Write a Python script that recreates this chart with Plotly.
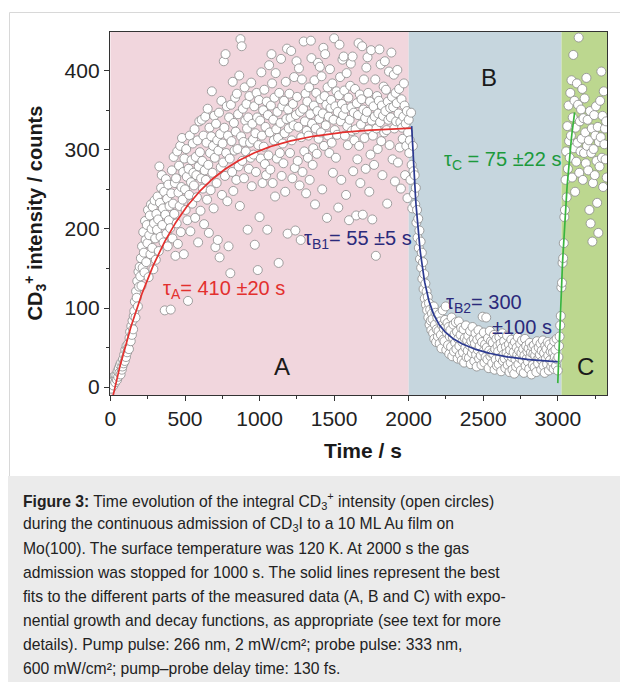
import numpy as np
import plotly.graph_objects as go

# ---------------------------------------------------------------
# CD3+ intensity trace, one reading every 4 s
# ---------------------------------------------------------------
sample_step_s = 4

# part A: gas admission on (0 - 1996 s)
counts_A = [
    3, -2, 8, 5, 12, 2, 9, 14, 6, 11,
    15, 9, 20, 13, 24, 18, 28, 16, 31, 22,
    26, 35, 30, 41, 33, 47, 38, 52, 44, 49,
    55, 48, 62, 70, 58, 77, 66, 84, 73, 90,
    96, 108, 88, 121, 113, 134, 102, 146, 127, 152,
    140, 163, 128, 178, 151, 196, 170, 145, 210, 186,
    158, 205, 182, 224, 139, 192, 217, 168, 231, 200,
    176, 228, 149, 207, 236, 188, 161, 219, 199, 241,
    212, 172, 279, 233, 190, 252, 268, 205, 226, 183,
    247, 97, 218, 263, 194, 238, 178, 256, 211, 229,
    201, 98, 245, 274, 188, 232, 291, 219, 258, 166,
    264, 207, 298, 181, 246, 280, 229, 305, 196, 253,
    315, 237, 272, 168, 289, 250, 224, 301, 266, 211,
    109, 276, 243, 318, 197, 259, 287, 232, 308, 271,
    255, 326, 214, 291, 268, 240, 312, 183, 279, 336,
    297, 223, 264, 338, 286, 251, 318, 206, 274, 342,
    262, 309, 237, 352, 281, 195, 328, 296, 249, 317,
    374, 271, 305, 226, 343, 290, 177, 333, 258, 312,
    186, 299, 347, 164, 320, 278, 362, 243, 308, 284,
    412, 328, 267, 421, 296, 355, 235, 318, 178, 341,
    289, 144, 357, 311, 272, 386, 248, 334, 299, 366,
    323, 262, 371, 301, 345, 279, 394, 229, 440, 317,
    431, 286, 352, 310, 264, 379, 337, 298, 358, 327,
    199, 341, 276, 368, 309, 290, 385, 254, 333, 313,
    294, 355, 180, 321, 272, 372, 341, 148, 306, 363,
    215, 337, 289, 398, 318, 258, 350, 304, 376, 282,
    329, 268, 361, 199, 344, 293, 407, 322, 275, 356,
    421, 384, 258, 338, 312, 366, 241, 397, 326, 289,
    348, 315, 157, 372, 296, 334, 415, 267, 355, 308,
    283, 362, 321, 247, 386, 339, 428, 194, 351, 327,
    371, 296, 340, 425, 312, 264, 358, 331, 392, 277,
    198, 344, 412, 367, 286, 329, 403, 255, 348, 186,
    316, 389, 272, 352, 437, 298, 336, 371, 245, 324,
    361, 290, 318, 379, 262, 345, 438, 416, 333, 281,
    302, 356, 388, 231, 327, 372, 295, 349, 410, 314,
    339, 405, 364, 322, 393, 250, 346, 429, 305, 368,
    421, 331, 357, 214, 379, 318, 342, 296, 402, 353,
    363, 309, 384, 271, 338, 441, 325, 355, 290, 374,
    319, 348, 227, 369, 433, 392, 336, 262, 358, 414,
    344, 418, 375, 318, 352, 243, 397, 330, 306, 366,
    211, 338, 381, 409, 354, 324, 418, 273, 347, 312,
    377, 326, 217, 359, 288, 344, 435, 305, 370, 258,
    332, 364, 431, 218, 351, 389, 315, 340, 276, 404,
    348, 417, 372, 326, 247, 361, 294, 426, 337, 212,
    318, 355, 281, 342, 389, 166, 327, 368, 301, 346,
    362, 427, 335, 408, 311, 356, 268, 343, 380, 322,
    412, 349, 376, 325, 232, 361, 338, 399, 306, 353,
    341, 423, 367, 288, 354, 395, 327, 260, 372, 336,
    359, 401, 284, 346, 377, 303, 335, 251, 364, 328,
    314, 342, 384, 356, 268, 333, 305, 349, 239, 322,
]

# part B: admission stopped (2000 - 2996 s)
counts_B = [
    338, 296, 312, 262, 347, 281, 226, 305, 273, 244,
    268, 231, 252, 208, 224, 189, 213, 176, 198, 162,
    184, 151, 170, 137, 158, 124, 143, 112, 131, 104,
    121, 97, 114, 88, 106, 79, 98, 84, 72, 93,
    86, 68, 102, 61, 79, 94, 57, 73, 88, 64,
    71, 92, 55, 83, 66, 49, 78, 97, 60, 74,
    58, 85, 102, 47, 69, 81, 53, 76, 42, 64,
    72, 51, 88, 39, 63, 79, 45, 67, 56, 82,
    48, 70, 36, 61, 83, 52, 41, 66, 75, 34,
    57, 44, 73, 31, 62, 50, 78, 38, 59, 46,
    65, 37, 53, 71, 29, 58, 43, 76, 49, 61,
    33, 55, 68, 41, 26, 60, 47, 72, 36, 52,
    63, 40, 28, 57, 89, 45, 69, 31, 54, 38,
    88, 50, 35, 62, 24, 46, 71, 39, 58, 43,
    30, 56, 42, 66, 22, 48, 35, 61, 27, 52,
    45, 29, 63, 37, 55, 20, 49, 68, 33, 41,
    58, 36, 24, 51, 43, 65, 28, 39, 54, 19,
    47, 31, 60, 38, 22, 53, 44, 17, 57, 35,
    26, 50, 41, 63, 29, 46, 37, 55, 21, 43,
    59, 34, 48, 18, 40, 61, 27, 52, 36, 45,
    32, 49, 23, 56, 38, 44, 16, 51, 28, 42,
    53, 25, 40, 47, 19, 58, 35, 30, 50, 37,
    41, 55, 22, 46, 33, 59, 27, 43, 18, 52,
    36, 48, 29, 57, 40, 21, 54, 34, 45, 26,
    50, 31, 44, 23, 58, 38, 47, 27, 61, 35,
]

# part C: admission restarted (3000 - 3328 s)
counts_C = [
    21, 38, 52, 64, 78, 90, 126, 132, 157, 163,
    182, 215, 224, 262, 298, 240, 330, 276, 356, 311,
    290, 372, 318, 388, 265, 341, 420, 302, 362, 247,
    328, 285, 384, 309, 357, 442, 271, 336, 298, 351,
    314, 377, 262, 340, 296, 365, 322, 283, 391, 305,
    338, 274, 312, 224, 349, 207, 296, 327, 184, 258,
    301, 344, 268, 318, 355, 286, 233, 329, 195, 310,
    279, 362, 316, 399, 290, 343, 253, 374, 307, 327,
    288, 336, 265,
]

counts = counts_A + counts_B + counts_C
time_s = np.arange(len(counts)) * sample_step_s

# experiment phases and their shading
phase_names = ["A", "B", "C"]
phase_start = [0, 2000, 3025]
phase_end = [2000, 3025, 3335]
phase_colors = ["#f1d6dd", "#c6d6de", "#bcd78f"]

# exponential fit parameters
tau_A, tau_B1, tau_B2, tau_C = 410, 55, 300, 75
fitA_offset, fitA_amp, fitA_end = -25, 355, 2020
fitB_start, fitB_base, fitB_amp1, fitB_amp2, fitB_end = 2020, 29, 223, 78, 3000
fitC_start, fitC_base, fitC_amp, fitC_end = 3000, 5, 440, 3113

tA = np.linspace(0, fitA_end, 300)
yA = fitA_offset + fitA_amp * (1 - np.exp(-tA / tau_A))
tB = np.linspace(fitB_start, fitB_end, 300)
yB = (fitB_base + fitB_amp1 * np.exp(-(tB - fitB_start) / tau_B1)
      + fitB_amp2 * np.exp(-(tB - fitB_start) / tau_B2))
tC = np.linspace(fitC_start, fitC_end, 60)
yC = fitC_base + fitC_amp * (1 - np.exp(-(tC - fitC_start) / tau_C))

FONT = "Liberation Sans, Arial, Helvetica, sans-serif"
W, H = 620, 682
ML, MR, MT, MB = 110, 13, 32, 287
plot_w = W - ML - MR
plot_h = H - MT - MB


def px(xpix):
    return (xpix - ML) / plot_w


def py(ypix):
    return (H - MB - ypix) / plot_h


fig = go.Figure()

fig.add_trace(go.Scatter(
    x=time_s, y=counts, mode="markers",
    marker=dict(size=9, color="white", line=dict(color="#8a8a8a", width=0.8)),
    showlegend=False, hoverinfo="skip",
))
fig.add_trace(go.Scatter(x=tA, y=yA, mode="lines",
                         line=dict(color="#e3302e", width=1.7), showlegend=False))
fig.add_trace(go.Scatter(x=tB, y=yB, mode="lines",
                         line=dict(color="#2b3990", width=1.7), showlegend=False))
fig.add_trace(go.Scatter(x=tC, y=yC, mode="lines",
                         line=dict(color="#3ab53f", width=1.7), showlegend=False))

shapes = []
# outer frame of the figure panel and caption background
shapes.append(dict(type="rect", xref="paper", yref="paper",
                   x0=px(9.5), x1=px(640), y0=py(12.5), y1=py(700),
                   line=dict(color="#d8d8d8", width=1), fillcolor="rgba(0,0,0,0)",
                   layer="below"))
shapes.append(dict(type="rect", xref="paper", yref="paper",
                   x0=px(8), x1=px(640), y0=py(476), y1=py(700),
                   line=dict(width=0), fillcolor="#ebebeb", layer="below"))
for s, e, c in zip(phase_start, phase_end, phase_colors):
    shapes.append(dict(type="rect", xref="x", yref="paper", x0=s, x1=e, y0=0, y1=1,
                       line=dict(width=0), fillcolor=c, layer="below"))

annotations = []
# phase letters
phase_label_x = [1150, 2538, 3187]
phase_label_y = [26, 392, 26]
for name, lx, ly in zip(phase_names, phase_label_x, phase_label_y):
    annotations.append(dict(x=lx, y=ly, xref="x", yref="y", text=name, showarrow=False,
                            xanchor="center", yanchor="middle",
                            font=dict(family=FONT, size=24, color="#1a1a1a")))

# time-constant labels
tau_labels = [
    ("τ<sub>A</sub>= 410 ±20 s", 338, 124, "#e3302e"),
    ("τ<sub>B1</sub>= 55 ±5 s", 1285, 186, "#2b2a7b"),
    ("τ<sub>B2</sub>= 300", 2240, 106, "#2b2a7b"),
    ("±100 s", 2545, 76, "#2b2a7b"),
    ("τ<sub>C</sub> = 75 ±22 s", 2222, 287, "#1c9a3c"),
]
for txt, lx, ly, col in tau_labels:
    annotations.append(dict(x=lx, y=ly, xref="x", yref="y", text=txt, showarrow=False,
                            xanchor="left", yanchor="middle",
                            font=dict(family=FONT, size=20, color=col)))

# axis titles
annotations.append(dict(x=px(35), y=0.5, xref="paper", yref="paper", textangle=-90,
                        xanchor="center", yanchor="middle",
                        text="<b>CD<sub>3</sub><sup>+</sup> intensity / counts</b>",
                        showarrow=False, font=dict(family=FONT, size=20, color="#1a1a1a")))
annotations.append(dict(x=px(363), y=py(450), xref="paper", yref="paper",
                        xanchor="center", yanchor="middle",
                        text="<b>Time / s</b>", showarrow=False,
                        font=dict(family=FONT, size=21, color="#1a1a1a")))

caption_lines = [
    "<b>Figure 3:</b> Time evolution of the integral CD<sub>3</sub><sup>+</sup> intensity (open circles)",
    "during the continuous admission of CD<sub>3</sub>I to a 10 ML Au film on",
    "Mo(100). The surface temperature was 120 K. At 2000 s the gas",
    "admission was stopped for 1000 s. The solid lines represent the best",
    "fits to the different parts of the measured data (A, B and C) with expo-",
    "nential growth and decay functions, as appropriate (see text for more",
    "details). Pump pulse: 266 nm, 2 mW/cm²; probe pulse: 333 nm,",
    "600 mW/cm²; pump–probe delay time: 130 fs.",
]
for i, line in enumerate(caption_lines):
    annotations.append(dict(x=px(20.5), y=py(500.5 + 24 * i), xref="paper", yref="paper",
                            text=line, showarrow=False, xanchor="left", yanchor="middle",
                            font=dict(family=FONT, size=15.7, color="#222222")))

axis_common = dict(
    showline=True, linecolor="#333333", linewidth=1.3, mirror=True,
    ticks="outside", ticklen=5, tickwidth=1.2, tickcolor="#333333",
    showgrid=False, zeroline=False,
    tickfont=dict(family=FONT, size=21, color="#222222"),
)

fig.update_layout(
    width=W, height=H, autosize=False,
    margin=dict(l=ML, r=MR, t=MT, b=MB),
    paper_bgcolor="white", plot_bgcolor="white",
    shapes=shapes, annotations=annotations,
    xaxis=dict(range=[-3, 3330], tickmode="array",
               tickvals=[0, 500, 1000, 1500, 2000, 2500, 3000],
               minor=dict(dtick=250, tick0=0, ticks="outside", ticklen=3,
                          tickcolor="#333333"),
               **axis_common),
    yaxis=dict(range=[-10, 449], tickmode="array",
               tickvals=[0, 100, 200, 300, 400],
               minor=dict(dtick=50, tick0=0, ticks="outside", ticklen=3,
                          tickcolor="#333333"),
               **axis_common),
)

fig.write_html("out.html")
